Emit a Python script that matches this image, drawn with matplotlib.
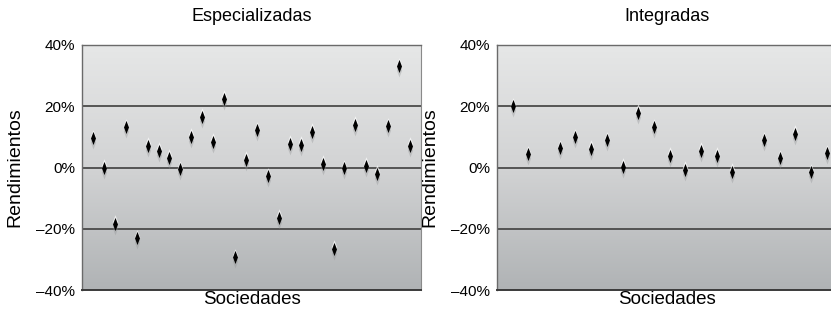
import matplotlib

matplotlib.use("Agg")
import numpy as np
import matplotlib.pyplot as plt
import matplotlib.transforms as mtransforms
from matplotlib.colors import LinearSegmentedColormap
from matplotlib.path import Path

plt.rcParams["font.family"] = ["Liberation Sans", "DejaVu Sans"]

# Rendimientos (%) por sociedad
especializadas = [9.5, 0.0, -18.4, 13.2, -23.1, 7.1, 5.5, 3.2, -0.6, 10.1,
                  16.5, 8.4, 22.5, -29.3, 2.5, 12.1, -2.8, -16.4, 7.8, 7.4,
                  11.6, 1.2, -26.6, -0.3, 13.9, 0.5, -2.1, 13.4, 33.0, 7.1]
# posiciones vacias (3 y 15) sin dato
integradas = [20.0, 4.4, np.nan, 6.3, 9.9, 6.1, 8.9, 0.3, 17.9, 13.2,
              3.8, -0.8, 5.5, 3.9, -1.4, np.nan, 8.9, 3.1, 11.0, -1.6, 4.7]

titles = ["Especializadas", "Integradas"]
yticks = [-40, -20, 0, 20, 40]
ytick_labels = ["\u201340%", "\u201320%", "0%", "20%", "40%"]

W, H = 831, 311
fig = plt.figure(figsize=(W / 100, H / 100), dpi=100)

bg = LinearSegmentedColormap.from_list("bg", ["#e6e7e7", "#d2d3d4", "#b0b3b5"])
grad = np.linspace(0, 1, 256).reshape(-1, 1)

# narrow diamond
diamond = Path([(0, 1), (0.38, 0), (0, -1), (-0.38, 0), (0, 1)],
               [Path.MOVETO, Path.LINETO, Path.LINETO, Path.LINETO, Path.CLOSEPOLY])


def panel(left, data, title, xmax):
    ax = fig.add_axes([left / W, (H - 290) / H, 339 / W, 245 / H])
    ax.imshow(grad, cmap=bg, aspect="auto", extent=[0, 1, 0, 1],
              transform=ax.transAxes, zorder=0)
    ax.set_xlim(0, xmax)
    ax.set_ylim(-40, 40)
    for v in [-20, 0, 20]:
        ax.axhline(v, color="#4a4a4a", lw=1.3, zorder=1)
    x = np.arange(1, len(data) + 1)
    y = np.array(data)
    shadow = mtransforms.offset_copy(ax.transData, fig=fig, x=0, y=-4, units="dots")
    glow = mtransforms.offset_copy(ax.transData, fig=fig, x=0, y=1.5, units="dots")
    ax.plot(x, y, ls="none", marker=diamond, ms=10, color="#8d8f91", alpha=0.35,
            mew=0, transform=shadow, zorder=2)
    ax.plot(x, y, ls="none", marker=diamond, ms=10.5, color="white", alpha=0.7,
            mew=0, transform=glow, zorder=2)
    ax.plot(x, y, ls="none", marker=diamond, ms=9.5, color="black", mew=0, zorder=3)
    ax.set_yticks(yticks)
    ax.set_yticklabels(ytick_labels)
    ax.set_xticks([])
    ax.tick_params(axis="y", length=0, pad=5, labelsize=11)
    for s in ["top", "left"]:
        ax.spines[s].set_color("#6a6a6a")
        ax.spines[s].set_linewidth(1.0)
    ax.spines["right"].set_color("#8a8a8a")
    ax.spines["bottom"].set_color("#3a3a3a")
    ax.spines["bottom"].set_linewidth(1.4)
    ax.set_title(title, fontsize=13, pad=17)
    ax.set_xlabel("Sociedades", fontsize=13.5, labelpad=1)
    ax.set_ylabel("Rendimientos", fontsize=14, labelpad=9)
    return ax


panel(82, especializadas, titles[0], 31)
panel(497, integradas, titles[1], 21.6)

fig.savefig("out.png", dpi=100)
